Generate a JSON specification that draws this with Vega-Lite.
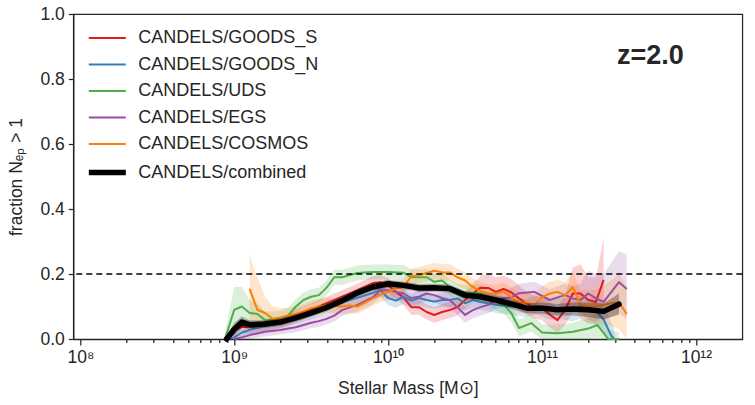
{
  "$schema": "https://vega.github.io/schema/vega-lite/v6.json",
  "width": 669,
  "height": 325,
  "autosize": {"type": "none"},
  "padding": {"left": 73.3, "top": 14, "right": 12.7, "bottom": 66},
  "datasets": {
    "frac": [
      {"s": "CANDELS/GOODS_S", "m": 8.913e8, "f": 0, "lo": 0, "hi": 0.01},
      {"s": "CANDELS/GOODS_S", "m": 1e9, "f": 0.025, "lo": 0.005, "hi": 0.045},
      {"s": "CANDELS/GOODS_S", "m": 1.122e9, "f": 0.037, "lo": 0.017, "hi": 0.057},
      {"s": "CANDELS/GOODS_S", "m": 1.259e9, "f": 0.037, "lo": 0.017, "hi": 0.057},
      {"s": "CANDELS/GOODS_S", "m": 1.413e9, "f": 0.037, "lo": 0.019, "hi": 0.055},
      {"s": "CANDELS/GOODS_S", "m": 1.585e9, "f": 0.042, "lo": 0.024, "hi": 0.06},
      {"s": "CANDELS/GOODS_S", "m": 1.995e9, "f": 0.05, "lo": 0.032, "hi": 0.068},
      {"s": "CANDELS/GOODS_S", "m": 2.512e9, "f": 0.07, "lo": 0.05, "hi": 0.09},
      {"s": "CANDELS/GOODS_S", "m": 3.162e9, "f": 0.09, "lo": 0.07, "hi": 0.11},
      {"s": "CANDELS/GOODS_S", "m": 3.981e9, "f": 0.11, "lo": 0.09, "hi": 0.13},
      {"s": "CANDELS/GOODS_S", "m": 5.012e9, "f": 0.13, "lo": 0.11, "hi": 0.15},
      {"s": "CANDELS/GOODS_S", "m": 6.31e9, "f": 0.15, "lo": 0.13, "hi": 0.17},
      {"s": "CANDELS/GOODS_S", "m": 7.943e9, "f": 0.172, "lo": 0.15, "hi": 0.194},
      {"s": "CANDELS/GOODS_S", "m": 8.913e9, "f": 0.175, "lo": 0.153, "hi": 0.197},
      {"s": "CANDELS/GOODS_S", "m": 1e10, "f": 0.165, "lo": 0.143, "hi": 0.187},
      {"s": "CANDELS/GOODS_S", "m": 1.122e10, "f": 0.145, "lo": 0.122, "hi": 0.168},
      {"s": "CANDELS/GOODS_S", "m": 1.259e10, "f": 0.128, "lo": 0.105, "hi": 0.151},
      {"s": "CANDELS/GOODS_S", "m": 1.413e10, "f": 0.098, "lo": 0.075, "hi": 0.121},
      {"s": "CANDELS/GOODS_S", "m": 1.585e10, "f": 0.098, "lo": 0.075, "hi": 0.121},
      {"s": "CANDELS/GOODS_S", "m": 1.778e10, "f": 0.083, "lo": 0.06, "hi": 0.106},
      {"s": "CANDELS/GOODS_S", "m": 1.995e10, "f": 0.074, "lo": 0.05, "hi": 0.098},
      {"s": "CANDELS/GOODS_S", "m": 2.239e10, "f": 0.083, "lo": 0.058, "hi": 0.108},
      {"s": "CANDELS/GOODS_S", "m": 2.512e10, "f": 0.089, "lo": 0.064, "hi": 0.114},
      {"s": "CANDELS/GOODS_S", "m": 2.818e10, "f": 0.098, "lo": 0.072, "hi": 0.124},
      {"s": "CANDELS/GOODS_S", "m": 3.162e10, "f": 0.12, "lo": 0.094, "hi": 0.146},
      {"s": "CANDELS/GOODS_S", "m": 3.548e10, "f": 0.14, "lo": 0.113, "hi": 0.17},
      {"s": "CANDELS/GOODS_S", "m": 3.981e10, "f": 0.158, "lo": 0.13, "hi": 0.195},
      {"s": "CANDELS/GOODS_S", "m": 4.467e10, "f": 0.157, "lo": 0.128, "hi": 0.2},
      {"s": "CANDELS/GOODS_S", "m": 5.012e10, "f": 0.145, "lo": 0.115, "hi": 0.19},
      {"s": "CANDELS/GOODS_S", "m": 5.623e10, "f": 0.154, "lo": 0.123, "hi": 0.195},
      {"s": "CANDELS/GOODS_S", "m": 6.31e10, "f": 0.143, "lo": 0.11, "hi": 0.185},
      {"s": "CANDELS/GOODS_S", "m": 7.079e10, "f": 0.125, "lo": 0.09, "hi": 0.165},
      {"s": "CANDELS/GOODS_S", "m": 7.943e10, "f": 0.11, "lo": 0.075, "hi": 0.145},
      {"s": "CANDELS/GOODS_S", "m": 8.913e10, "f": 0.098, "lo": 0.062, "hi": 0.134},
      {"s": "CANDELS/GOODS_S", "m": 1e11, "f": 0.095, "lo": 0.058, "hi": 0.132},
      {"s": "CANDELS/GOODS_S", "m": 1.122e11, "f": 0.075, "lo": 0.036, "hi": 0.114},
      {"s": "CANDELS/GOODS_S", "m": 1.259e11, "f": 0.058, "lo": 0.018, "hi": 0.098},
      {"s": "CANDELS/GOODS_S", "m": 1.413e11, "f": 0.09, "lo": 0.045, "hi": 0.135},
      {"s": "CANDELS/GOODS_S", "m": 1.585e11, "f": 0.14, "lo": 0.08, "hi": 0.22},
      {"s": "CANDELS/GOODS_S", "m": 1.778e11, "f": 0.14, "lo": 0.08, "hi": 0.23},
      {"s": "CANDELS/GOODS_S", "m": 1.995e11, "f": 0.12, "lo": 0.06, "hi": 0.19},
      {"s": "CANDELS/GOODS_S", "m": 2.239e11, "f": 0.114, "lo": 0.05, "hi": 0.19},
      {"s": "CANDELS/GOODS_S", "m": 2.512e11, "f": 0.182, "lo": 0.08, "hi": 0.31},

      {"s": "CANDELS/GOODS_N", "m": 8.913e8, "f": 0, "lo": 0, "hi": 0.01},
      {"s": "CANDELS/GOODS_N", "m": 1e9, "f": 0.005, "lo": 0, "hi": 0.02},
      {"s": "CANDELS/GOODS_N", "m": 1.122e9, "f": 0.02, "lo": 0.005, "hi": 0.035},
      {"s": "CANDELS/GOODS_N", "m": 1.259e9, "f": 0.028, "lo": 0.012, "hi": 0.044},
      {"s": "CANDELS/GOODS_N", "m": 1.585e9, "f": 0.04, "lo": 0.025, "hi": 0.055},
      {"s": "CANDELS/GOODS_N", "m": 1.995e9, "f": 0.048, "lo": 0.033, "hi": 0.063},
      {"s": "CANDELS/GOODS_N", "m": 2.512e9, "f": 0.062, "lo": 0.046, "hi": 0.078},
      {"s": "CANDELS/GOODS_N", "m": 3.162e9, "f": 0.078, "lo": 0.061, "hi": 0.095},
      {"s": "CANDELS/GOODS_N", "m": 3.981e9, "f": 0.097, "lo": 0.079, "hi": 0.115},
      {"s": "CANDELS/GOODS_N", "m": 5.012e9, "f": 0.112, "lo": 0.093, "hi": 0.131},
      {"s": "CANDELS/GOODS_N", "m": 6.31e9, "f": 0.127, "lo": 0.107, "hi": 0.147},
      {"s": "CANDELS/GOODS_N", "m": 7.943e9, "f": 0.142, "lo": 0.121, "hi": 0.163},
      {"s": "CANDELS/GOODS_N", "m": 8.913e9, "f": 0.15, "lo": 0.129, "hi": 0.171},
      {"s": "CANDELS/GOODS_N", "m": 1e10, "f": 0.126, "lo": 0.104, "hi": 0.148},
      {"s": "CANDELS/GOODS_N", "m": 1.122e10, "f": 0.118, "lo": 0.096, "hi": 0.14},
      {"s": "CANDELS/GOODS_N", "m": 1.259e10, "f": 0.13, "lo": 0.108, "hi": 0.152},
      {"s": "CANDELS/GOODS_N", "m": 1.413e10, "f": 0.118, "lo": 0.096, "hi": 0.14},
      {"s": "CANDELS/GOODS_N", "m": 1.585e10, "f": 0.126, "lo": 0.104, "hi": 0.148},
      {"s": "CANDELS/GOODS_N", "m": 1.778e10, "f": 0.12, "lo": 0.098, "hi": 0.142},
      {"s": "CANDELS/GOODS_N", "m": 1.995e10, "f": 0.115, "lo": 0.093, "hi": 0.137},
      {"s": "CANDELS/GOODS_N", "m": 2.239e10, "f": 0.12, "lo": 0.098, "hi": 0.142},
      {"s": "CANDELS/GOODS_N", "m": 2.512e10, "f": 0.12, "lo": 0.097, "hi": 0.143},
      {"s": "CANDELS/GOODS_N", "m": 2.818e10, "f": 0.125, "lo": 0.102, "hi": 0.148},
      {"s": "CANDELS/GOODS_N", "m": 3.162e10, "f": 0.11, "lo": 0.086, "hi": 0.134},
      {"s": "CANDELS/GOODS_N", "m": 3.548e10, "f": 0.12, "lo": 0.096, "hi": 0.144},
      {"s": "CANDELS/GOODS_N", "m": 3.981e10, "f": 0.114, "lo": 0.09, "hi": 0.138},
      {"s": "CANDELS/GOODS_N", "m": 5.012e10, "f": 0.105, "lo": 0.08, "hi": 0.13},
      {"s": "CANDELS/GOODS_N", "m": 6.31e10, "f": 0.1, "lo": 0.074, "hi": 0.126},
      {"s": "CANDELS/GOODS_N", "m": 7.943e10, "f": 0.095, "lo": 0.068, "hi": 0.122},
      {"s": "CANDELS/GOODS_N", "m": 8.913e10, "f": 0.105, "lo": 0.077, "hi": 0.133},
      {"s": "CANDELS/GOODS_N", "m": 1e11, "f": 0.098, "lo": 0.069, "hi": 0.127},
      {"s": "CANDELS/GOODS_N", "m": 1.122e11, "f": 0.089, "lo": 0.059, "hi": 0.119},
      {"s": "CANDELS/GOODS_N", "m": 1.259e11, "f": 0.095, "lo": 0.063, "hi": 0.127},
      {"s": "CANDELS/GOODS_N", "m": 1.585e11, "f": 0.089, "lo": 0.055, "hi": 0.123},
      {"s": "CANDELS/GOODS_N", "m": 1.778e11, "f": 0.1, "lo": 0.064, "hi": 0.136},
      {"s": "CANDELS/GOODS_N", "m": 1.995e11, "f": 0.085, "lo": 0.047, "hi": 0.123},
      {"s": "CANDELS/GOODS_N", "m": 2.239e11, "f": 0.087, "lo": 0.045, "hi": 0.129},
      {"s": "CANDELS/GOODS_N", "m": 2.512e11, "f": 0.06, "lo": 0.015, "hi": 0.105},
      {"s": "CANDELS/GOODS_N", "m": 2.818e11, "f": 0.01, "lo": 0, "hi": 0.05},
      {"s": "CANDELS/GOODS_N", "m": 2.951e11, "f": 0, "lo": 0, "hi": 0.03},

      {"s": "CANDELS/UDS", "m": 8.71e8, "f": 0, "lo": 0, "hi": 0.02},
      {"s": "CANDELS/UDS", "m": 1e9, "f": 0.09, "lo": 0.04, "hi": 0.16},
      {"s": "CANDELS/UDS", "m": 1.122e9, "f": 0.1, "lo": 0.05, "hi": 0.16},
      {"s": "CANDELS/UDS", "m": 1.259e9, "f": 0.08, "lo": 0.045, "hi": 0.12},
      {"s": "CANDELS/UDS", "m": 1.413e9, "f": 0.077, "lo": 0.045, "hi": 0.11},
      {"s": "CANDELS/UDS", "m": 1.585e9, "f": 0.058, "lo": 0.035, "hi": 0.085},
      {"s": "CANDELS/UDS", "m": 1.778e9, "f": 0.06, "lo": 0.038, "hi": 0.085},
      {"s": "CANDELS/UDS", "m": 1.995e9, "f": 0.064, "lo": 0.042, "hi": 0.088},
      {"s": "CANDELS/UDS", "m": 2.239e9, "f": 0.072, "lo": 0.05, "hi": 0.096},
      {"s": "CANDELS/UDS", "m": 2.512e9, "f": 0.1, "lo": 0.077, "hi": 0.123},
      {"s": "CANDELS/UDS", "m": 2.818e9, "f": 0.12, "lo": 0.097, "hi": 0.143},
      {"s": "CANDELS/UDS", "m": 3.162e9, "f": 0.13, "lo": 0.107, "hi": 0.153},
      {"s": "CANDELS/UDS", "m": 3.548e9, "f": 0.135, "lo": 0.112, "hi": 0.158},
      {"s": "CANDELS/UDS", "m": 3.981e9, "f": 0.158, "lo": 0.135, "hi": 0.181},
      {"s": "CANDELS/UDS", "m": 4.467e9, "f": 0.19, "lo": 0.167, "hi": 0.213},
      {"s": "CANDELS/UDS", "m": 5.012e9, "f": 0.19, "lo": 0.167, "hi": 0.213},
      {"s": "CANDELS/UDS", "m": 6.31e9, "f": 0.203, "lo": 0.18, "hi": 0.226},
      {"s": "CANDELS/UDS", "m": 7.943e9, "f": 0.206, "lo": 0.183, "hi": 0.229},
      {"s": "CANDELS/UDS", "m": 1e10, "f": 0.206, "lo": 0.183, "hi": 0.229},
      {"s": "CANDELS/UDS", "m": 1.259e10, "f": 0.204, "lo": 0.18, "hi": 0.228},
      {"s": "CANDELS/UDS", "m": 1.413e10, "f": 0.19, "lo": 0.166, "hi": 0.214},
      {"s": "CANDELS/UDS", "m": 1.585e10, "f": 0.19, "lo": 0.166, "hi": 0.214},
      {"s": "CANDELS/UDS", "m": 1.778e10, "f": 0.19, "lo": 0.166, "hi": 0.214},
      {"s": "CANDELS/UDS", "m": 1.995e10, "f": 0.176, "lo": 0.152, "hi": 0.2},
      {"s": "CANDELS/UDS", "m": 2.239e10, "f": 0.18, "lo": 0.155, "hi": 0.205},
      {"s": "CANDELS/UDS", "m": 2.512e10, "f": 0.16, "lo": 0.135, "hi": 0.185},
      {"s": "CANDELS/UDS", "m": 2.818e10, "f": 0.145, "lo": 0.12, "hi": 0.17},
      {"s": "CANDELS/UDS", "m": 3.162e10, "f": 0.143, "lo": 0.118, "hi": 0.168},
      {"s": "CANDELS/UDS", "m": 3.981e10, "f": 0.14, "lo": 0.114, "hi": 0.166},
      {"s": "CANDELS/UDS", "m": 5.012e10, "f": 0.115, "lo": 0.088, "hi": 0.142},
      {"s": "CANDELS/UDS", "m": 5.623e10, "f": 0.105, "lo": 0.077, "hi": 0.133},
      {"s": "CANDELS/UDS", "m": 6.31e10, "f": 0.08, "lo": 0.052, "hi": 0.108},
      {"s": "CANDELS/UDS", "m": 7.079e10, "f": 0.034, "lo": 0.008, "hi": 0.06},
      {"s": "CANDELS/UDS", "m": 8.511e10, "f": 0.049, "lo": 0.022, "hi": 0.076},
      {"s": "CANDELS/UDS", "m": 1e11, "f": 0.02, "lo": 0, "hi": 0.045},
      {"s": "CANDELS/UDS", "m": 1.259e11, "f": 0.018, "lo": 0, "hi": 0.045},
      {"s": "CANDELS/UDS", "m": 1.585e11, "f": 0.022, "lo": 0, "hi": 0.05},
      {"s": "CANDELS/UDS", "m": 1.995e11, "f": 0.032, "lo": 0, "hi": 0.065},
      {"s": "CANDELS/UDS", "m": 2.291e11, "f": 0.043, "lo": 0.005, "hi": 0.085},
      {"s": "CANDELS/UDS", "m": 2.692e11, "f": 0, "lo": 0, "hi": 0.03},
      {"s": "CANDELS/UDS", "m": 3.162e11, "f": 0, "lo": 0, "hi": 0.02},

      {"s": "CANDELS/EGS", "m": 1e9, "f": 0, "lo": 0, "hi": 0.01},
      {"s": "CANDELS/EGS", "m": 1.122e9, "f": 0.005, "lo": 0, "hi": 0.02},
      {"s": "CANDELS/EGS", "m": 1.259e9, "f": 0.012, "lo": 0, "hi": 0.03},
      {"s": "CANDELS/EGS", "m": 1.585e9, "f": 0.022, "lo": 0.008, "hi": 0.036},
      {"s": "CANDELS/EGS", "m": 1.995e9, "f": 0.028, "lo": 0.014, "hi": 0.042},
      {"s": "CANDELS/EGS", "m": 2.239e9, "f": 0.032, "lo": 0.018, "hi": 0.046},
      {"s": "CANDELS/EGS", "m": 2.512e9, "f": 0.036, "lo": 0.021, "hi": 0.051},
      {"s": "CANDELS/EGS", "m": 2.818e9, "f": 0.043, "lo": 0.027, "hi": 0.059},
      {"s": "CANDELS/EGS", "m": 3.162e9, "f": 0.05, "lo": 0.034, "hi": 0.066},
      {"s": "CANDELS/EGS", "m": 3.548e9, "f": 0.055, "lo": 0.038, "hi": 0.072},
      {"s": "CANDELS/EGS", "m": 3.981e9, "f": 0.062, "lo": 0.045, "hi": 0.079},
      {"s": "CANDELS/EGS", "m": 4.467e9, "f": 0.072, "lo": 0.054, "hi": 0.09},
      {"s": "CANDELS/EGS", "m": 5.012e9, "f": 0.089, "lo": 0.07, "hi": 0.108},
      {"s": "CANDELS/EGS", "m": 6.31e9, "f": 0.105, "lo": 0.085, "hi": 0.125},
      {"s": "CANDELS/EGS", "m": 7.943e9, "f": 0.128, "lo": 0.107, "hi": 0.149},
      {"s": "CANDELS/EGS", "m": 8.913e9, "f": 0.15, "lo": 0.128, "hi": 0.172},
      {"s": "CANDELS/EGS", "m": 1e10, "f": 0.15, "lo": 0.128, "hi": 0.172},
      {"s": "CANDELS/EGS", "m": 1.122e10, "f": 0.145, "lo": 0.123, "hi": 0.167},
      {"s": "CANDELS/EGS", "m": 1.259e10, "f": 0.14, "lo": 0.118, "hi": 0.162},
      {"s": "CANDELS/EGS", "m": 1.413e10, "f": 0.126, "lo": 0.104, "hi": 0.148},
      {"s": "CANDELS/EGS", "m": 1.585e10, "f": 0.13, "lo": 0.108, "hi": 0.152},
      {"s": "CANDELS/EGS", "m": 1.778e10, "f": 0.14, "lo": 0.117, "hi": 0.163},
      {"s": "CANDELS/EGS", "m": 1.995e10, "f": 0.135, "lo": 0.112, "hi": 0.158},
      {"s": "CANDELS/EGS", "m": 2.239e10, "f": 0.126, "lo": 0.102, "hi": 0.15},
      {"s": "CANDELS/EGS", "m": 2.512e10, "f": 0.12, "lo": 0.096, "hi": 0.144},
      {"s": "CANDELS/EGS", "m": 2.818e10, "f": 0.098, "lo": 0.074, "hi": 0.122},
      {"s": "CANDELS/EGS", "m": 3.162e10, "f": 0.074, "lo": 0.05, "hi": 0.098},
      {"s": "CANDELS/EGS", "m": 3.548e10, "f": 0.089, "lo": 0.064, "hi": 0.114},
      {"s": "CANDELS/EGS", "m": 3.981e10, "f": 0.098, "lo": 0.072, "hi": 0.124},
      {"s": "CANDELS/EGS", "m": 4.467e10, "f": 0.105, "lo": 0.079, "hi": 0.131},
      {"s": "CANDELS/EGS", "m": 5.012e10, "f": 0.12, "lo": 0.093, "hi": 0.147},
      {"s": "CANDELS/EGS", "m": 5.623e10, "f": 0.126, "lo": 0.098, "hi": 0.154},
      {"s": "CANDELS/EGS", "m": 6.31e10, "f": 0.128, "lo": 0.1, "hi": 0.156},
      {"s": "CANDELS/EGS", "m": 7.079e10, "f": 0.141, "lo": 0.112, "hi": 0.17},
      {"s": "CANDELS/EGS", "m": 7.943e10, "f": 0.143, "lo": 0.113, "hi": 0.173},
      {"s": "CANDELS/EGS", "m": 8.913e10, "f": 0.145, "lo": 0.114, "hi": 0.176},
      {"s": "CANDELS/EGS", "m": 1e11, "f": 0.133, "lo": 0.101, "hi": 0.165},
      {"s": "CANDELS/EGS", "m": 1.122e11, "f": 0.12, "lo": 0.087, "hi": 0.153},
      {"s": "CANDELS/EGS", "m": 1.259e11, "f": 0.128, "lo": 0.094, "hi": 0.162},
      {"s": "CANDELS/EGS", "m": 1.413e11, "f": 0.135, "lo": 0.099, "hi": 0.171},
      {"s": "CANDELS/EGS", "m": 1.585e11, "f": 0.125, "lo": 0.087, "hi": 0.163},
      {"s": "CANDELS/EGS", "m": 1.778e11, "f": 0.12, "lo": 0.08, "hi": 0.17},
      {"s": "CANDELS/EGS", "m": 1.995e11, "f": 0.14, "lo": 0.095, "hi": 0.21},
      {"s": "CANDELS/EGS", "m": 2.239e11, "f": 0.125, "lo": 0.075, "hi": 0.2},
      {"s": "CANDELS/EGS", "m": 2.512e11, "f": 0.114, "lo": 0.06, "hi": 0.2},
      {"s": "CANDELS/EGS", "m": 3.162e11, "f": 0.175, "lo": 0.08, "hi": 0.27},
      {"s": "CANDELS/EGS", "m": 3.548e11, "f": 0.154, "lo": 0.06, "hi": 0.26},

      {"s": "CANDELS/COSMOS", "m": 1.259e9, "f": 0.154, "lo": 0.06, "hi": 0.258},
      {"s": "CANDELS/COSMOS", "m": 1.413e9, "f": 0.09, "lo": 0.05, "hi": 0.19},
      {"s": "CANDELS/COSMOS", "m": 1.585e9, "f": 0.08, "lo": 0.05, "hi": 0.13},
      {"s": "CANDELS/COSMOS", "m": 1.778e9, "f": 0.062, "lo": 0.04, "hi": 0.1},
      {"s": "CANDELS/COSMOS", "m": 1.995e9, "f": 0.066, "lo": 0.045, "hi": 0.095},
      {"s": "CANDELS/COSMOS", "m": 2.239e9, "f": 0.072, "lo": 0.05, "hi": 0.097},
      {"s": "CANDELS/COSMOS", "m": 2.512e9, "f": 0.077, "lo": 0.055, "hi": 0.1},
      {"s": "CANDELS/COSMOS", "m": 2.818e9, "f": 0.085, "lo": 0.063, "hi": 0.108},
      {"s": "CANDELS/COSMOS", "m": 3.162e9, "f": 0.095, "lo": 0.072, "hi": 0.118},
      {"s": "CANDELS/COSMOS", "m": 3.548e9, "f": 0.1, "lo": 0.077, "hi": 0.123},
      {"s": "CANDELS/COSMOS", "m": 3.981e9, "f": 0.103, "lo": 0.08, "hi": 0.126},
      {"s": "CANDELS/COSMOS", "m": 5.012e9, "f": 0.1, "lo": 0.077, "hi": 0.123},
      {"s": "CANDELS/COSMOS", "m": 5.623e9, "f": 0.103, "lo": 0.08, "hi": 0.126},
      {"s": "CANDELS/COSMOS", "m": 6.31e9, "f": 0.1, "lo": 0.077, "hi": 0.123},
      {"s": "CANDELS/COSMOS", "m": 7.079e9, "f": 0.112, "lo": 0.089, "hi": 0.135},
      {"s": "CANDELS/COSMOS", "m": 7.943e9, "f": 0.125, "lo": 0.102, "hi": 0.148},
      {"s": "CANDELS/COSMOS", "m": 8.913e9, "f": 0.137, "lo": 0.113, "hi": 0.161},
      {"s": "CANDELS/COSMOS", "m": 1e10, "f": 0.145, "lo": 0.121, "hi": 0.169},
      {"s": "CANDELS/COSMOS", "m": 1.122e10, "f": 0.156, "lo": 0.132, "hi": 0.18},
      {"s": "CANDELS/COSMOS", "m": 1.259e10, "f": 0.16, "lo": 0.136, "hi": 0.184},
      {"s": "CANDELS/COSMOS", "m": 1.413e10, "f": 0.193, "lo": 0.168, "hi": 0.218},
      {"s": "CANDELS/COSMOS", "m": 1.585e10, "f": 0.196, "lo": 0.171, "hi": 0.221},
      {"s": "CANDELS/COSMOS", "m": 1.995e10, "f": 0.21, "lo": 0.185, "hi": 0.235},
      {"s": "CANDELS/COSMOS", "m": 2.239e10, "f": 0.205, "lo": 0.18, "hi": 0.23},
      {"s": "CANDELS/COSMOS", "m": 2.512e10, "f": 0.205, "lo": 0.179, "hi": 0.231},
      {"s": "CANDELS/COSMOS", "m": 2.818e10, "f": 0.19, "lo": 0.164, "hi": 0.216},
      {"s": "CANDELS/COSMOS", "m": 3.162e10, "f": 0.18, "lo": 0.154, "hi": 0.206},
      {"s": "CANDELS/COSMOS", "m": 3.548e10, "f": 0.16, "lo": 0.133, "hi": 0.187},
      {"s": "CANDELS/COSMOS", "m": 3.981e10, "f": 0.148, "lo": 0.121, "hi": 0.175},
      {"s": "CANDELS/COSMOS", "m": 4.467e10, "f": 0.14, "lo": 0.112, "hi": 0.168},
      {"s": "CANDELS/COSMOS", "m": 5.012e10, "f": 0.14, "lo": 0.112, "hi": 0.168},
      {"s": "CANDELS/COSMOS", "m": 5.623e10, "f": 0.145, "lo": 0.116, "hi": 0.174},
      {"s": "CANDELS/COSMOS", "m": 6.31e10, "f": 0.13, "lo": 0.1, "hi": 0.16},
      {"s": "CANDELS/COSMOS", "m": 7.079e10, "f": 0.11, "lo": 0.079, "hi": 0.141},
      {"s": "CANDELS/COSMOS", "m": 7.943e10, "f": 0.113, "lo": 0.081, "hi": 0.145},
      {"s": "CANDELS/COSMOS", "m": 8.913e10, "f": 0.105, "lo": 0.072, "hi": 0.138},
      {"s": "CANDELS/COSMOS", "m": 1e11, "f": 0.128, "lo": 0.094, "hi": 0.162},
      {"s": "CANDELS/COSMOS", "m": 1.122e11, "f": 0.14, "lo": 0.104, "hi": 0.176},
      {"s": "CANDELS/COSMOS", "m": 1.259e11, "f": 0.145, "lo": 0.107, "hi": 0.183},
      {"s": "CANDELS/COSMOS", "m": 1.413e11, "f": 0.135, "lo": 0.095, "hi": 0.175},
      {"s": "CANDELS/COSMOS", "m": 1.585e11, "f": 0.16, "lo": 0.11, "hi": 0.21},
      {"s": "CANDELS/COSMOS", "m": 1.778e11, "f": 0.105, "lo": 0.06, "hi": 0.15},
      {"s": "CANDELS/COSMOS", "m": 1.995e11, "f": 0.1, "lo": 0.05, "hi": 0.15},
      {"s": "CANDELS/COSMOS", "m": 2.239e11, "f": 0.1, "lo": 0.048, "hi": 0.152},
      {"s": "CANDELS/COSMOS", "m": 2.512e11, "f": 0.105, "lo": 0.045, "hi": 0.165},
      {"s": "CANDELS/COSMOS", "m": 2.818e11, "f": 0.11, "lo": 0.04, "hi": 0.18},
      {"s": "CANDELS/COSMOS", "m": 3.162e11, "f": 0.113, "lo": 0.03, "hi": 0.2},
      {"s": "CANDELS/COSMOS", "m": 3.548e11, "f": 0.077, "lo": 0, "hi": 0.16},

      {"s": "CANDELS/combined", "m": 8.913e8, "f": 0, "lo": 0, "hi": 0.01},
      {"s": "CANDELS/combined", "m": 1e9, "f": 0.03, "lo": 0.01, "hi": 0.05},
      {"s": "CANDELS/combined", "m": 1.122e9, "f": 0.052, "lo": 0.035, "hi": 0.069},
      {"s": "CANDELS/combined", "m": 1.259e9, "f": 0.044, "lo": 0.03, "hi": 0.058},
      {"s": "CANDELS/combined", "m": 1.585e9, "f": 0.046, "lo": 0.034, "hi": 0.058},
      {"s": "CANDELS/combined", "m": 1.995e9, "f": 0.052, "lo": 0.04, "hi": 0.064},
      {"s": "CANDELS/combined", "m": 2.512e9, "f": 0.065, "lo": 0.053, "hi": 0.077},
      {"s": "CANDELS/combined", "m": 3.162e9, "f": 0.08, "lo": 0.068, "hi": 0.092},
      {"s": "CANDELS/combined", "m": 3.981e9, "f": 0.097, "lo": 0.085, "hi": 0.109},
      {"s": "CANDELS/combined", "m": 5.012e9, "f": 0.118, "lo": 0.106, "hi": 0.13},
      {"s": "CANDELS/combined", "m": 6.31e9, "f": 0.142, "lo": 0.13, "hi": 0.154},
      {"s": "CANDELS/combined", "m": 7.943e9, "f": 0.16, "lo": 0.148, "hi": 0.172},
      {"s": "CANDELS/combined", "m": 1e10, "f": 0.17, "lo": 0.158, "hi": 0.182},
      {"s": "CANDELS/combined", "m": 1.259e10, "f": 0.165, "lo": 0.153, "hi": 0.177},
      {"s": "CANDELS/combined", "m": 1.585e10, "f": 0.157, "lo": 0.145, "hi": 0.169},
      {"s": "CANDELS/combined", "m": 1.995e10, "f": 0.158, "lo": 0.146, "hi": 0.17},
      {"s": "CANDELS/combined", "m": 2.512e10, "f": 0.155, "lo": 0.142, "hi": 0.168},
      {"s": "CANDELS/combined", "m": 3.162e10, "f": 0.135, "lo": 0.122, "hi": 0.148},
      {"s": "CANDELS/combined", "m": 3.981e10, "f": 0.13, "lo": 0.117, "hi": 0.143},
      {"s": "CANDELS/combined", "m": 5.012e10, "f": 0.12, "lo": 0.106, "hi": 0.134},
      {"s": "CANDELS/combined", "m": 6.31e10, "f": 0.108, "lo": 0.093, "hi": 0.123},
      {"s": "CANDELS/combined", "m": 7.943e10, "f": 0.095, "lo": 0.079, "hi": 0.111},
      {"s": "CANDELS/combined", "m": 1e11, "f": 0.095, "lo": 0.078, "hi": 0.112},
      {"s": "CANDELS/combined", "m": 1.259e11, "f": 0.09, "lo": 0.072, "hi": 0.108},
      {"s": "CANDELS/combined", "m": 1.585e11, "f": 0.092, "lo": 0.072, "hi": 0.112},
      {"s": "CANDELS/combined", "m": 1.995e11, "f": 0.09, "lo": 0.068, "hi": 0.112},
      {"s": "CANDELS/combined", "m": 2.512e11, "f": 0.085, "lo": 0.06, "hi": 0.11},
      {"s": "CANDELS/combined", "m": 3.162e11, "f": 0.107, "lo": 0.075, "hi": 0.14}
    ],
    "note": [{"label": "z=2.0", "m": 5.05e11, "y": 0.846, "level": 0.2}]
  },
  "layer": [
    {
      "data": {"name": "frac"},
      "transform": [{"filter": "datum.s != 'CANDELS/combined'"}],
      "mark": {"type": "area", "fillOpacity": 0.2, "interpolate": "linear"},
      "encoding": {
        "x": {
          "field": "m",
          "type": "quantitative",
          "title": "Stellar Mass [M⊙]",
          "scale": {"type": "log", "domain": [9e7, 2e12], "nice": false},
          "axis": {
            "values": [1e8, 2e8, 3e8, 4e8, 5e8, 6e8, 7e8, 8e8, 9e8, 1e9, 2e9, 3e9, 4e9, 5e9, 6e9, 7e9, 8e9, 9e9, 1e10, 2e10, 3e10, 4e10, 5e10, 6e10, 7e10, 8e10, 9e10, 1e11, 2e11, 3e11, 4e11, 5e11, 6e11, 7e11, 8e11, 9e11, 1e12],
            "labelExpr": "abs(log(datum.value)/LN10 - round(log(datum.value)/LN10)) < 0.001 ? '10' + ['⁸','⁹','¹⁰','¹¹','¹²'][round(log(datum.value)/LN10) - 8] : ''",
            "tickSize": {"condition": {"test": "abs(log(datum.value)/LN10 - round(log(datum.value)/LN10)) < 0.001", "value": 6}, "value": 3.5},
            "labelOverlap": false,
            "labelFlush": false,
            "labelPadding": 3,
            "titlePadding": 14
          }
        },
        "y": {
          "field": "lo",
          "type": "quantitative",
          "title": "fraction Nₑₚ > 1",
          "scale": {"domain": [0, 1], "nice": false},
          "axis": {"values": [0, 0.2, 0.4, 0.6, 0.8, 1.0], "format": ".1f", "tickSize": 5, "labelPadding": 4, "titlePadding": 14}
        },
        "y2": {"field": "hi"},
        "fill": {
          "field": "s",
          "type": "nominal",
          "scale": {"domain": ["CANDELS/combined", "CANDELS/GOODS_S", "CANDELS/GOODS_N", "CANDELS/UDS", "CANDELS/EGS", "CANDELS/COSMOS"], "range": ["#000000", "#e41a1c", "#377eb8", "#4daf4a", "#984ea3", "#ff7f00"]},
          "legend": null
        }
      }
    },
    {
      "data": {"name": "frac"},
      "transform": [{"filter": "datum.s != 'CANDELS/combined'"}],
      "mark": {"type": "line", "strokeWidth": 2, "strokeJoin": "round"},
      "encoding": {
        "x": {"field": "m", "type": "quantitative"},
        "y": {"field": "f", "type": "quantitative"},
        "color": {
          "field": "s",
          "type": "nominal",
          "scale": {"domain": ["CANDELS/GOODS_S", "CANDELS/GOODS_N", "CANDELS/UDS", "CANDELS/EGS", "CANDELS/COSMOS", "CANDELS/combined"], "range": ["#e41a1c", "#377eb8", "#4daf4a", "#984ea3", "#ff7f00", "#000000"]},
          "legend": {
            "encode": {"symbols": {"update": {"strokeWidth": {"signal": "datum.value === 'CANDELS/combined' ? 5.5 : 2"}}}}
          }
        }
      }
    },
    {
      "data": {"name": "frac"},
      "transform": [{"filter": "datum.s == 'CANDELS/combined'"}],
      "mark": {"type": "area", "fillOpacity": 0.28, "interpolate": "linear"},
      "encoding": {
        "x": {"field": "m", "type": "quantitative"},
        "y": {"field": "lo", "type": "quantitative"},
        "y2": {"field": "hi"},
        "fill": {"field": "s", "type": "nominal", "legend": null}
      }
    },
    {
      "data": {"name": "frac"},
      "transform": [{"filter": "datum.s == 'CANDELS/combined'"}],
      "mark": {"type": "line", "strokeWidth": 5.5, "strokeJoin": "round", "strokeCap": "round"},
      "encoding": {
        "x": {"field": "m", "type": "quantitative"},
        "y": {"field": "f", "type": "quantitative"},
        "color": {"field": "s", "type": "nominal"}
      }
    },
    {
      "data": {"name": "note"},
      "mark": {"type": "rule", "color": "#000000", "strokeWidth": 1.5, "strokeDash": [6, 4]},
      "encoding": {"y": {"field": "level", "type": "quantitative"}}
    },
    {
      "data": {"name": "note"},
      "mark": {"type": "text", "fontSize": 27, "fontWeight": "bold", "align": "center", "baseline": "alphabetic", "color": "#262626"},
      "encoding": {
        "x": {"field": "m", "type": "quantitative"},
        "y": {"field": "y", "type": "quantitative"},
        "text": {"field": "label"}
      }
    }
  ],
  "config": {
    "font": "Liberation Sans",
    "view": {"stroke": "#262626", "strokeWidth": 1.25},
    "axis": {
      "grid": false,
      "labelFontSize": 17.5,
      "titleFontSize": 17.5,
      "titleFontWeight": "normal",
      "labelColor": "#262626",
      "titleColor": "#262626",
      "tickColor": "#262626",
      "domainColor": "#262626",
      "tickWidth": 1.25,
      "domainWidth": 1.25
    },
    "legend": {
      "orient": "none",
      "legendX": 25,
      "legendY": 15,
      "title": null,
      "symbolType": "stroke",
      "symbolSize": 1369,
      "symbolStrokeWidth": 2,
      "labelFontSize": 18,
      "labelColor": "#262626",
      "labelLimit": 400,
      "rowPadding": 8.5,
      "labelOffset": 22
    }
  }
}
